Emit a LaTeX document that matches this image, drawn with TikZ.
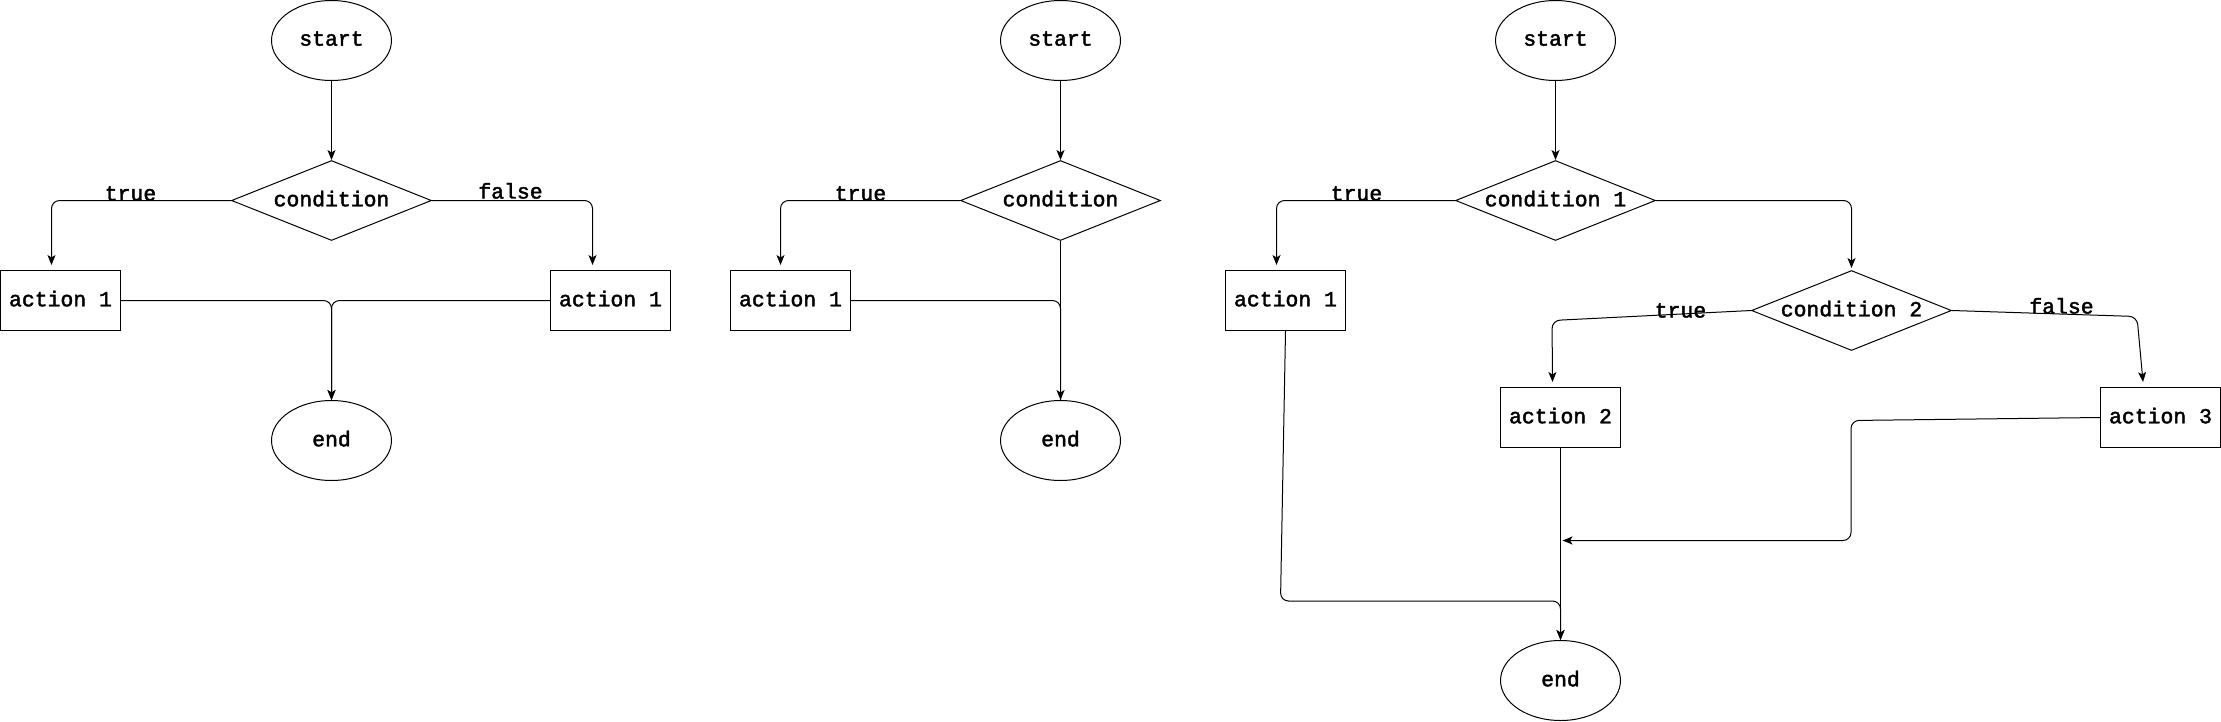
\documentclass[tikz,border=0pt]{standalone}
\usepackage{fontspec}
\setmonofont{Liberation Mono}[BoldFont=Liberation Mono, BoldFeatures={FakeBold=2}]
\usetikzlibrary{shapes.geometric, arrows.meta, positioning, calc}
\tikzset{
  txt/.style = {font=\ttfamily\bfseries\fontsize{12.2pt}{14pt}\selectfont},
  term/.style = {ellipse, draw=black, fill=white, inner sep=0pt, text depth=0.08cm,
    minimum width=2.4cm, minimum height=1.6cm, line width=0.02cm, txt},
  dec/.style = {diamond, aspect=2.5, draw=black, fill=white, inner sep=0pt,
    text depth=0.08cm, minimum width=4cm, minimum height=1.6cm, line width=0.02cm, txt},
  acao/.style = {rectangle, draw=black, fill=white, inner sep=0pt, text depth=0.08cm,
    minimum width=2.4cm, minimum height=1.2cm, line width=0.02cm, txt},
  rot/.style = {anchor=base, inner sep=0pt, txt},
  lig/.style = {draw=black, line width=0.02cm, rounded corners=0.16cm},
  seta/.style = {-{Stealth[length=0.2cm, width=0.16cm, inset=0.05cm]},
    line width=0.02cm, draw=black, rounded corners=0.16cm}
}
\begin{document}
\begin{tikzpicture}[x=0.02cm, y=-0.02cm]
  \useasboundingbox (-0.5,-0.5) rectangle (2220.5,720.5);
  % um if / else
  \node [term] (ini1) at (331,40) {start};
  \node [dec] (cond1) at (331,200) {condition};
  \node [acao] (acv1) at (60,300) {action 1};
  \node [acao] (acf1) at (610,300) {action 1};
  \node [term] (fim1) at (331,440) {end};
  \node [rot] (rv1) at (130,200) {true};
  \node [rot] (rf1) at (510,198) {false};
  \draw [seta] (ini1) -- (cond1);
  \draw [seta] (cond1.west) -| ([xshift=-0.18cm, yshift=0.1cm]acv1.north);
  \draw [seta] (cond1.east) -| ([xshift=-0.36cm, yshift=0.1cm]acf1.north);
  \draw [seta] (acv1.east) -| (fim1.north);
  \draw [seta] (acf1.west) -| (fim1.north);
  % um if sem else
  \node [term] (ini2) at (1060,40) {start};
  \node [dec] (cond2) at (1060,200) {condition};
  \node [acao] (acv2) at (790,300) {action 1};
  \node [term] (fim2) at (1060,440) {end};
  \node [rot] (rv2) at (860,200) {true};
  \draw [seta] (ini2) -- (cond2);
  \draw [seta] (cond2.west) -| ([xshift=-0.2cm, yshift=0.1cm]acv2.north);
  \draw [seta] (cond2.south) -- (fim2.north);
  \draw [lig] (acv2.east) -| (fim2.north);
  % if / else if / else
  \node [term] (ini3) at (1555,40) {start};
  \node [dec] (cond3) at (1555,200) {condition 1};
  \node [acao] (acv3) at (1285,300) {action 1};
  \node [dec] (cond4) at (1851,310) {condition 2};
  \node [acao] (acv4) at (1560,417) {action 2};
  \node [acao] (acf4) at (2160,417) {action 3};
  \node [term] (fim3) at (1560,680) {end};
  \node [rot] (rv3) at (1356,200) {true};
  \node [rot] (rv4) at (1680,317) {true};
  \node [rot] (rf4) at (2061,313) {false};
  \coordinate (junta) at (1562,540);
  \draw [seta] (ini3) -- (cond3);
  \draw [seta] (cond3.west) -| ([xshift=-0.18cm, yshift=0.1cm]acv3.north);
  \draw [seta] (cond3.east) -| ([yshift=0.04cm]cond4.north);
  \draw [seta] (cond4.west) -- ++(-199,10) -- ([xshift=-0.16cm, yshift=0.1cm]acv4.north);
  \draw [seta] (cond4.east) -- ++(185,6) -- ([xshift=-0.35cm, yshift=0.1cm]acf4.north);
  \draw [seta] (acf4.west) -- ++(-249,3) |- (junta);
  \draw [seta] (acv4.south) -- (fim3.north);
  \draw [seta] (acv3.south) -- ++(-5,270) -| (fim3.north);
\end{tikzpicture}
\end{document}
